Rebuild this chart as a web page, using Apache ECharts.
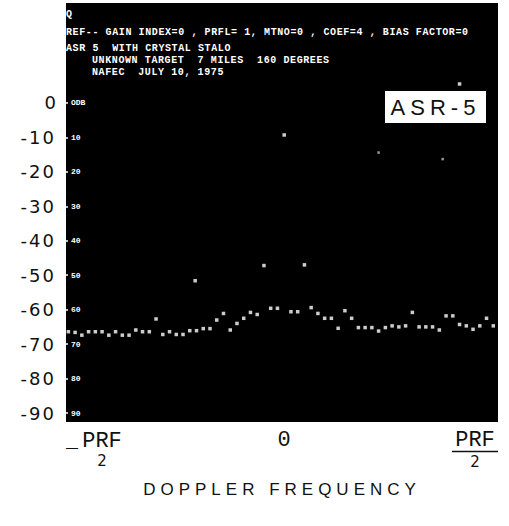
<!DOCTYPE html>
<html><head><meta charset="utf-8">
<script src="https://cdn.jsdelivr.net/npm/echarts@6/dist/echarts.min.js"></script>
<style>html,body{margin:0;padding:0;background:#fff}#c{width:509px;height:526px}</style>
</head><body><div id="c"></div>
<script>
// Doppler bins (FFT bin index, -PRF/2 .. +PRF/2)
const bins = [-32,-31,-30,-29,-28,-27,-26,-25,-24,-23,-22,-21,-20,-19,-18,-17,-16,-15,-14,-13,
  -12,-11,-10,-9,-8,-7,-6,-5,-4,-3,-2,-1,0,1,2,3,4,5,6,7,8,9,10,11,12,13,14,15,16,17,18,19,
  20,21,22,23,24,25,26,27,28,29,30,31];
// Spectrum level in dB per bin
const spectrumDb = [
  -66.4,-66.6,-67.4,-66.4,-66.4,-66.4,-67.4,-66.4,-67.4,-67.4,
  -65.9,-66.4,-66.4,-62.7,-67.2,-66.4,-67.2,-67.2,-66.1,-66.1,
  -65.5,-65.5,-63.0,-61.1,-65.9,-64.0,-62.5,-60.8,-61.4,-47.2,
  -59.6,-59.6,-9.3,-60.6,-60.6,-47.0,-59.4,-61.1,-62.5,-62.5,
  -65.4,-60.3,-62.5,-65.2,-65.2,-65.2,-66.2,-65.2,-64.7,-65.0,
  -64.7,-60.8,-65.0,-65.0,-65.0,-65.9,-61.8,-61.8,-64.3,-64.7,
  -65.7,-64.7,-62.5,-64.7];
// isolated dots seen on the plot
const strayBright = [[-13.2,-51.6],[26.0,5.5]];
const strayFaint = [[14.0,-14.4],[23.5,-16.3]];
const yTicks = [0,-10,-20,-30,-40,-50,-60,-70,-80,-90];
const xTickLabels = ['-PRF/2','0','PRF/2'];
const headerLines = [
  'Q',
  'REF-- GAIN INDEX=0 , PRFL= 1, MTNO=0 , COEF=4 , BIAS FACTOR=0',
  'ASR 5  WITH CRYSTAL STALO',
  'UNKNOWN TARGET  7 MILES  160 DEGREES',
  'NAFEC  JULY 10, 1975'];
const badgeText = 'ASR-5';
const xAxisTitle = 'DOPPLER FREQUENCY';

const X_MIN = -32.35, X_MAX = 31.7, Y_MIN = -92.6, Y_MAX = 29;
const chart = echarts.init(document.getElementById('c'), null, {renderer: 'svg'});
const hdrPos = [[66,9],[66,27],[66,43],[92,55],[92,67]];
const mono = '"Liberation Mono", monospace';
const option = {
  animation: false,
  backgroundColor: '#fff',
  grid: {left: 66, right: 11, top: 3, bottom: 104, show: true, backgroundColor: '#000', borderWidth: 0},
  xAxis: {
    type: 'value', min: X_MIN, max: X_MAX,
    axisLine: {show: false}, axisTick: {show: false}, splitLine: {show: false},
    name: xAxisTitle, nameLocation: 'middle', nameGap: 59,
    nameTextStyle: {fontFamily: '"Liberation Sans"', fontSize: 17, color: '#111'},
    axisLabel: {
      customValues: [X_MIN, 0, X_MAX], margin: 8,
      alignMinLabel: 'left', alignMaxLabel: 'right',
      formatter: function (v) {
        if (v < 0) return '{s|_}{p|PRF}\n{sp|}{d|2}';
        if (v > 0) return '{p|PRF}\n{bar|}\n{d|2}';
        return '{z|' + xTickLabels[1] + '}';
      },
      rich: {
        s: {fontFamily: mono, fontSize: 20, width: 14, color: '#111', lineHeight: 22},
        sp: {width: 14},
        p: {fontFamily: mono, fontSize: 22, width: 44, align: 'center', color: '#111', lineHeight: 20},
        bar: {width: 46, height: 1.5, backgroundColor: '#111', lineHeight: 3},
        d: {fontFamily: '"DejaVu Sans"', fontSize: 15, width: 44, align: 'center', color: '#111', lineHeight: 18},
        z: {fontFamily: mono, fontSize: 22, color: '#111', lineHeight: 20}
      }
    }
  },
  yAxis: [{
    type: 'value', min: Y_MIN, max: Y_MAX, position: 'left',
    axisLine: {show: false}, axisTick: {show: false}, splitLine: {show: false},
    axisLabel: {customValues: yTicks, margin: 10, fontFamily: '"DejaVu Sans"', fontSize: 18, color: '#111',
      formatter: v => v === 0 ? '0' : '-' + Math.abs(v)}
  }, {
    type: 'value', min: Y_MIN, max: Y_MAX, position: 'left',
    axisLine: {show: false}, splitLine: {show: false},
    axisTick: {show: true, inside: true, length: 2, customValues: yTicks, lineStyle: {color: '#fff', width: 1.5}},
    axisLabel: {inside: true, customValues: yTicks, margin: 5, fontFamily: mono, fontWeight: 'bold', fontSize: 8, color: '#fff',
      formatter: v => v === 0 ? 'ODB' : String(Math.abs(v))}
  }],
  series: [{
    type: 'scatter', name: 'spectrum', symbol: 'rect', symbolSize: 3.5,
    itemStyle: {color: '#fff'},
    data: bins.map((b, i) => [b, spectrumDb[i]])
  }, {
    type: 'scatter', name: 'stray', symbol: 'rect', symbolSize: 3.5,
    itemStyle: {color: '#fff'}, data: strayBright
  }, {
    type: 'scatter', name: 'faint', symbol: 'rect', symbolSize: 2.5,
    itemStyle: {color: '#bbb'}, data: strayFaint
  }],
  graphic: headerLines.map((t, i) => ({
    type: 'text', left: hdrPos[i][0], top: hdrPos[i][1],
    style: {text: t, fill: '#fff', font: 'bold 10px ' + mono}
  })).concat([{
    type: 'group', left: 384, top: 90,
    children: [
      {type: 'rect', shape: {x: 0, y: 0, width: 102, height: 33}, style: {fill: '#fff', stroke: '#000', lineWidth: 1}},
      {type: 'text', x: 51, y: 17, style: {text: badgeText, fill: '#111', font: '22px "Liberation Sans"', align: 'center', verticalAlign: 'middle'}}
    ]
  }])
};
chart.setOption(option);
const spacing = {'DOPPLER FREQUENCY': 5, 'ASR-5': 5};
headerLines.forEach(t => { spacing[t] = 0.6; });
function applySpacing() {
  document.querySelectorAll('#c svg text').forEach(el => {
    const t = el.textContent;
    if (spacing[t] != null) el.setAttribute('letter-spacing', spacing[t]);
    else if (/^-\d+$/.test(t)) el.setAttribute('letter-spacing', 2);
  });
}
applySpacing();
chart.on('finished', applySpacing);
</script></body></html>
